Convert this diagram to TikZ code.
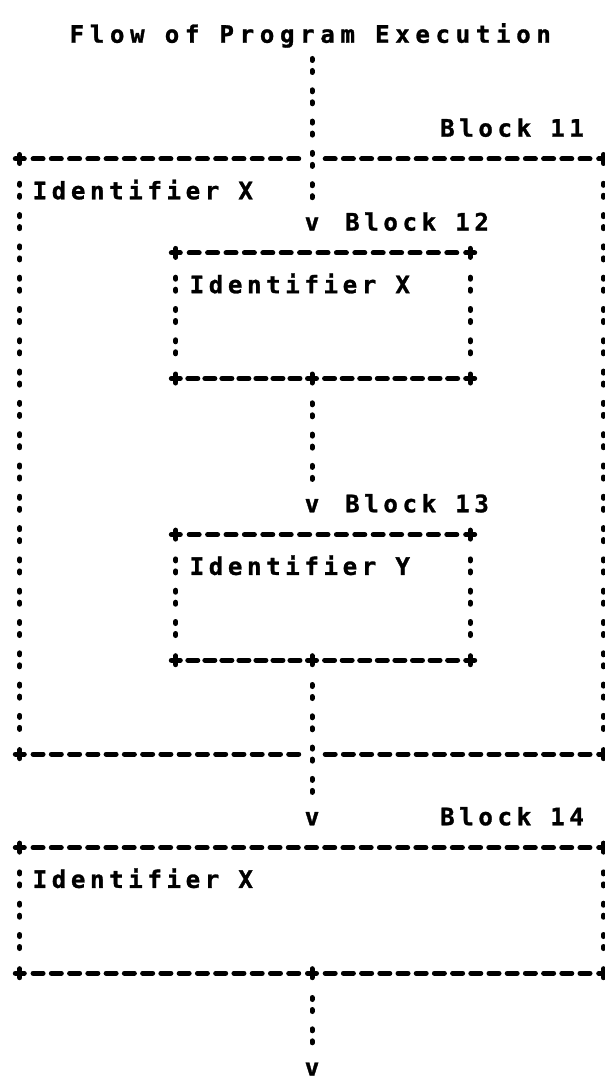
\documentclass[tikz,border=0pt]{standalone}
\usepackage{fontspec}
\newfontfamily\prt{DejaVu Sans Mono}[LetterSpace=19.5, BoldFeatures={FakeBold=1.2}]
\newfontfamily\prtwide{DejaVu Sans Mono}[LetterSpace=23.8, BoldFeatures={FakeBold=1.2}]
\usetikzlibrary{calc,fit}

% a row of n dash glyphs spread evenly between two points (ends excluded)
\newcommand\hdashes[3]{%
  \foreach \k in {1,...,#3}{%
    \draw[glyph] ($(#1)!{\k/(#3+1)}!(#2)$) +(-5pt,0pt) -- +(5pt,0pt);}}
% a printed "+" corner / junction
\newcommand\plusat[1]{%
  \draw[glyph] (#1) +(-4.5pt,0pt) -- +(4.5pt,0pt) (#1) +(0pt,-4.5pt) -- +(0pt,4.5pt);}

\begin{document}
\begin{tikzpicture}[x=1pt,y=-31.3pt,
  rowtext/.style={font={\prt\bfseries\fontsize{24pt}{26pt}\selectfont},
    inner sep=0pt, text height=17.5pt, text depth=0pt, minimum height=31.3pt},
  lbl/.style={rowtext, anchor=west},
  area/.style={inner sep=0pt, draw=none},
  glyph/.style={line width=5pt, line cap=round, black},
  colons/.style={glyph, dash pattern=on 2pt off 10pt on 2pt off 17.3pt, dash phase=22.65pt},
  flow/.style={colons},
  side/.style={colons, shorten <=15.65pt, shorten >=15.65pt}]

\useasboundingbox (0,-0.0863) rectangle (604,34.642);
\fill[white] (0,-0.0863) rectangle (604,34.642);

% title and block labels
\node[lbl, font={\prtwide\bfseries\fontsize{24pt}{26pt}\selectfont}] (title) at (69.5,1) {Flow of Program Execution};
\node[lbl] (l11) at (440,4) {Block 11};

% block 11
\node[area, fit={(20,5) (603,24)}] (b11) {};
\node[lbl] (id11) at (32.5,6) {Identifier X};

% block 12
\node[rowtext] (v12) at (312,7) {v};
\node[lbl] (l12) at (345,7) {Block 12};
\node[area, fit={(176,8) (470,12)}] (b12) {};
\node[lbl] (id12) at (189.5,9) {Identifier X};
\coordinate (j12) at (b12.south -| v12);

% block 13
\node[rowtext] (v13) at (312,16) {v};
\node[lbl] (l13) at (345,16) {Block 13};
\node[area, fit={(176,17) (470,21)}] (b13) {};
\node[lbl] (id13) at (189.5,18) {Identifier Y};
\coordinate (j13) at (b13.south -| v13);

% block 14
\node[rowtext] (v14) at (312,26) {v};
\node[lbl] (l14) at (440,26) {Block 14};
\node[area, fit={(20,27) (603,31)}] (b14) {};
\node[lbl] (id14) at (32.5,28) {Identifier X};
\coordinate (j14) at (b14.south -| v14);

\node[rowtext] (vend) at (312,34) {v};

% outline of block 11 (the flow line crosses the top and bottom edges)
\plusat{b11.north west} \plusat{b11.north east}
\plusat{b11.south west} \plusat{b11.south east}
\hdashes{b11.north west}{b11.north -| v12}{15}
\hdashes{b11.north -| v12}{b11.north east}{15}
\hdashes{b11.south west}{b11.south -| v12}{15}
\hdashes{b11.south -| v12}{b11.south east}{15}
\draw[side] (b11.north west) -- (b11.south west);
\draw[side] (b11.north east) -- (b11.south east);

% outlines of blocks 12 and 13
\foreach \b/\j in {b12/j12, b13/j13}{
  \plusat{\b.north west} \plusat{\b.north east}
  \plusat{\b.south west} \plusat{\b.south east} \plusat{\j}
  \hdashes{\b.north west}{\b.north east}{15}
  \hdashes{\b.south west}{\j}{7}
  \hdashes{\j}{\b.south east}{8}
  \draw[side] (\b.north west) -- (\b.south west);
  \draw[side] (\b.north east) -- (\b.south east);
}

% outline of block 14
\plusat{b14.north west} \plusat{b14.north east}
\plusat{b14.south west} \plusat{b14.south east} \plusat{j14}
\hdashes{b14.north west}{b14.north east}{31}
\hdashes{b14.south west}{j14}{15}
\hdashes{j14}{b14.south east}{15}
\draw[side] (b14.north west) -- (b14.south west);
\draw[side] (b14.north east) -- (b14.south east);

% flow of execution
\draw[flow] (title.south -| v12) -- (v12.north);
\draw[flow, shorten <=15.65pt] (j12) -- (v13.north);
\draw[flow, shorten <=15.65pt] (j13) -- (v14.north);
\draw[flow, shorten <=15.65pt] (j14) -- (vend.north);
\end{tikzpicture}
\end{document}
